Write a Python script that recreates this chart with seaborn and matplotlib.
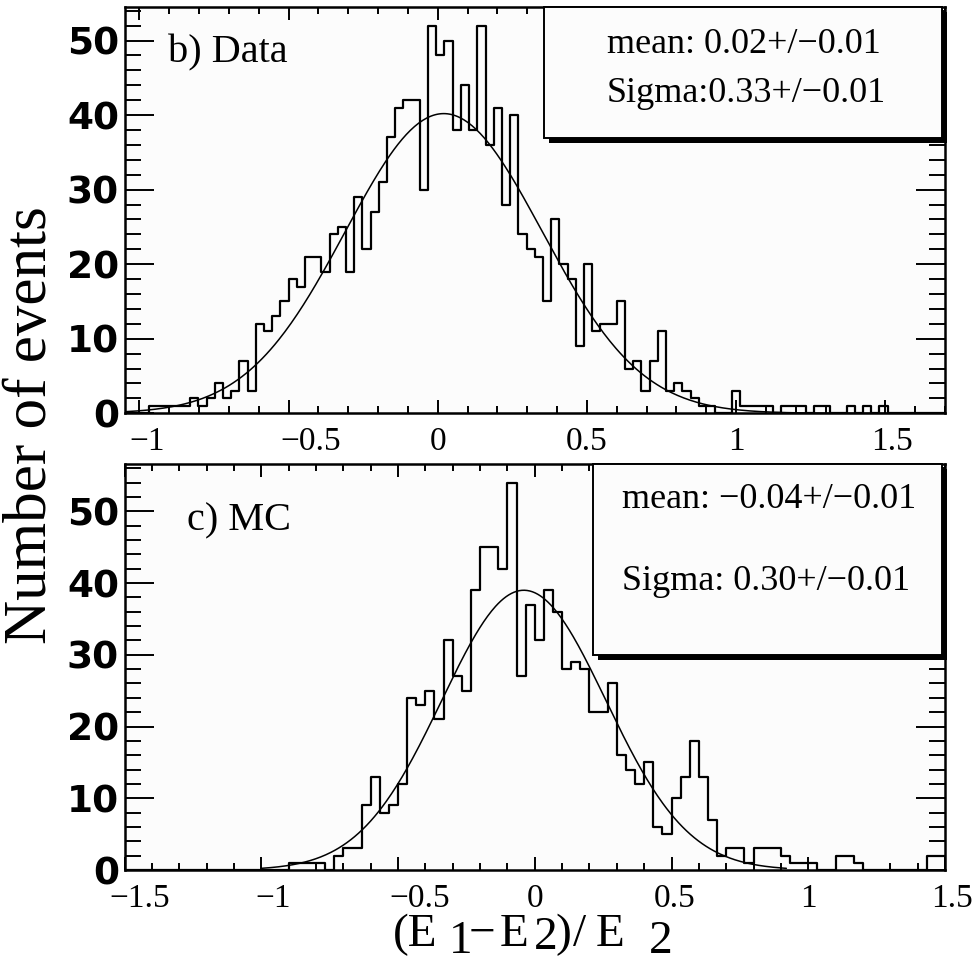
import numpy as np
import pandas as pd
import seaborn as sns
import matplotlib
matplotlib.use("Agg")
import matplotlib.pyplot as plt
from matplotlib.patches import Rectangle
from matplotlib.transforms import ScaledTranslation
from matplotlib.ticker import MultipleLocator

# ---------------- data ----------------
data_range = (-1.05, 1.70)
data_nbins = 100
data_counts = [0, 0, 0, 1, 1, 1, 1, 1, 2, 1,
               2, 4, 2, 3, 7, 3, 12, 11, 13, 15,
               18, 17, 21, 21, 19, 24, 25, 19, 29, 22,
               27, 31, 37, 41, 42, 42, 30, 52, 48, 50,
               38, 44, 38, 52, 36, 41, 28, 40, 24, 22,
               21, 15, 26, 20, 18, 9, 20, 11, 12, 12,
               15, 6, 7, 3, 7, 11, 3, 4, 3, 2,
               1, 1, 0, 0, 3, 1, 1, 1, 1, 0,
               1, 1, 1, 0, 1, 1, 0, 0, 1, 0,
               1, 0, 1, 0, 0, 0, 0, 0, 0, 0]
data_fit_amp, data_fit_mean, data_fit_sigma = 40.2, 0.02, 0.33
data_fit_range = (-1.05, 1.70)

mc_range = (-1.5, 1.5)
mc_nbins = 90
mc_counts = [0, 0, 0, 0, 0, 0, 0, 0, 0, 0,
             0, 0, 0, 0, 0, 0, 0, 0, 1, 1,
             1, 1, 0, 2, 3, 3, 9, 13, 8, 9,
             12, 24, 23, 25, 21, 32, 27, 25, 39, 45,
             45, 42, 54, 27, 37, 32, 39, 36, 28, 29,
             28, 22, 22, 26, 16, 14, 12, 15, 6, 5,
             10, 13, 18, 13, 7, 2, 3, 3, 1, 3,
             3, 3, 2, 1, 1, 1, 0, 0, 2, 2,
             1, 0, 0, 0, 0, 0, 0, 0, 2, 2]
mc_fit_amp, mc_fit_mean, mc_fit_sigma = 39.0, -0.04, 0.30
mc_fit_range = (-1.0, 0.92)

x_ticks_data = [-1, -0.5, 0, 0.5, 1, 1.5]
x_ticks_mc = [-1.5, -1, -0.5, 0, 0.5, 1, 1.5]
y_ticks = [0, 10, 20, 30, 40, 50]

panel_labels = ["b) Data", "c) MC"]
stats_data = ["mean: 0.02+/\u22120.01", "Sigma:0.33+/\u22120.01"]
stats_mc = ["mean: \u22120.04+/\u22120.01", "Sigma: 0.30+/\u22120.01"]
y_title = "Number of events"

# ---------------- style ----------------
sns.set_theme(style="white")
plt.rcParams["font.family"] = ["Liberation Serif", "DejaVu Serif"]
plt.rcParams["axes.unicode_minus"] = True
for k in ("text.color", "axes.labelcolor", "xtick.color", "ytick.color"):
    plt.rcParams[k] = "black"

W, H = 977, 963
fig = plt.figure(figsize=(W / 100, H / 100), dpi=100)
fig.patch.set_facecolor("white")


def fx(px):
    return px / W


def fy(py):
    return 1 - py / H


SERIF = ["Liberation Serif", "DejaVu Serif"]
SANSB = ["DejaVu Sans", "Liberation Sans"]

ax1 = fig.add_axes([fx(124.5), fy(413.3), fx(945) - fx(124.5), fy(7) - fy(413.3)])
ax2 = fig.add_axes([fx(124.5), fy(870), fx(945) - fx(124.5), fy(464) - fy(870)])

# horizontal shift (px) of tick labels, as placed in the source picture
label_shift_data = {-1: 8, -0.5: 22, 1.5: 7}
label_shift_mc = {-1.5: 15, -1: 12, -0.5: 22, 0.5: 3, 1.5: 7}


def draw_panel(ax, rng, nbins, counts, amp, mean, sigma, frange, ymax, xticks, shifts):
    edges = np.linspace(rng[0], rng[1], nbins + 1)
    centers = 0.5 * (edges[:-1] + edges[1:])
    df = pd.DataFrame({"x": centers, "n": np.asarray(counts, dtype=float)})
    sns.histplot(data=df, x="x", weights="n", bins=nbins, binrange=rng,
                 element="step", fill=False, color="black", linewidth=1.6, ax=ax)
    xs = np.linspace(frange[0], frange[1], 400)
    ys = amp * np.exp(-0.5 * ((xs - mean) / sigma) ** 2)
    sns.lineplot(x=xs, y=ys, ax=ax, color="black", linewidth=1.1)
    ax.set_xlim(*rng)
    ax.set_ylim(0, ymax)
    ax.set_xlabel("")
    ax.set_ylabel("")
    ax.set_facecolor("#fcfcfc")
    for s in ax.spines.values():
        s.set_linewidth(1.8)
        s.set_color("black")
        s.set_visible(True)
    ax.set_xticks(xticks)
    ax.xaxis.set_minor_locator(MultipleLocator(0.1))
    ax.set_yticks(y_ticks)
    ax.yaxis.set_minor_locator(MultipleLocator(2))
    ax.tick_params(which="both", direction="in", top=True, right=True,
                   bottom=True, left=True, color="black", width=1.4)
    ax.tick_params(axis="y", which="major", length=21, pad=4)
    ax.tick_params(axis="y", which="minor", length=11.5)
    ax.tick_params(axis="x", which="major", length=9.5)
    ax.tick_params(axis="x", which="minor", length=5)
    ax.set_xticklabels([])
    ax.set_yticklabels([str(v) for v in y_ticks], fontfamily=SANSB,
                       fontweight="bold", fontsize=27, color="black")
    for v in xticks:
        s = ("%g" % v).replace("-", "\u2212")
        dx = shifts.get(v, 0)
        tr = ax.get_xaxis_transform() + ScaledTranslation(dx / 100, -13 / 100,
                                                          fig.dpi_scale_trans)
        ax.text(v, 0, s, transform=tr, ha="center", va="top", fontsize=24,
                fontfamily=SERIF, color="black")


draw_panel(ax1, data_range, data_nbins, data_counts, data_fit_amp, data_fit_mean,
           data_fit_sigma, data_fit_range, 54.5, x_ticks_data, label_shift_data)
draw_panel(ax2, mc_range, mc_nbins, mc_counts, mc_fit_amp, mc_fit_mean,
           mc_fit_sigma, mc_fit_range, 56.6, x_ticks_mc, label_shift_mc)


def stat_box(x0, y0, x1, y1, lines, tx, tys):
    sh = 5
    fig.add_artist(Rectangle((fx(x0 + sh), fy(y1 + sh)), fx(x1 + sh) - fx(x0 + sh),
                             fy(y0 + sh) - fy(y1 + sh), transform=fig.transFigure,
                             facecolor="black", edgecolor="none", zorder=5))
    fig.add_artist(Rectangle((fx(x0), fy(y1)), fx(x1) - fx(x0), fy(y0) - fy(y1),
                             transform=fig.transFigure, facecolor="#fcfcfc",
                             edgecolor="black", linewidth=1.4, zorder=6))
    for line, ty in zip(lines, tys):
        fig.text(fx(tx), fy(ty), line, ha="left", va="baseline", fontsize=26,
                 fontfamily=SERIF, zorder=7)


stat_box(544, 7, 942, 138, stats_data, 607, [53, 102])
stat_box(593, 464, 942, 655, stats_mc, 622, [508, 590])

fig.text(fx(168), fy(62), panel_labels[0], ha="left", va="baseline",
         fontsize=29, fontfamily=SERIF)
fig.text(fx(187), fy(530), panel_labels[1], ha="left", va="baseline",
         fontsize=29, fontfamily=SERIF)

fig.text(fx(31), fy(425), y_title, rotation=90, ha="center", va="center",
         fontsize=44, fontfamily=SERIF)

# x-axis title pieces: (E1 - E2) / E2 with lowered indices
title_pieces = [("(E", 393, 946), ("1", 449, 953), ("\u2212", 469, 946),
                ("E", 500, 946), ("2", 534, 949), (")", 555, 946),
                ("/", 573, 946), ("E", 596, 946), ("2", 649, 953)]
for txt, px, py in title_pieces:
    fig.text(fx(px), fy(py), txt, ha="left", va="baseline", fontsize=34,
             fontfamily=SERIF)

fig.savefig("out.png", dpi=100, facecolor="white")
